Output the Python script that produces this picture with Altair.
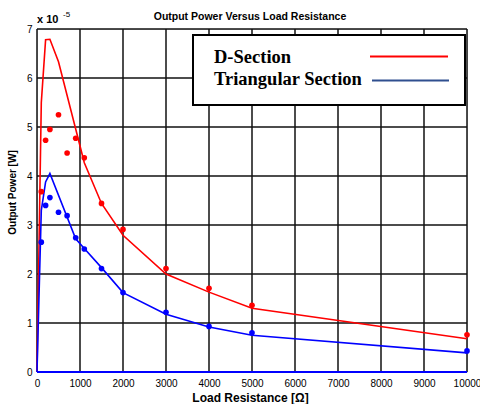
import altair as alt
import pandas as pd

# Measured output power (x 1e-5 W) at each load resistance (ohm)
measured_r = [100, 200, 300, 500, 700, 900, 1100, 1500, 2000, 3000, 4000, 5000, 10000]
d_measured = [3.68, 4.73, 4.95, 5.25, 4.47, 4.77, 4.37, 3.44, 2.91, 2.11, 1.71, 1.36, 0.76]
tri_measured = [2.65, 3.40, 3.56, 3.26, 3.19, 2.74, 2.51, 2.11, 1.62, 1.22, 0.93, 0.80, 0.43]

# Model curves
d_model_r = [0, 100, 200, 300, 500, 1100, 1500, 2000, 3000, 4000, 5000, 10000]
d_model = [0, 5.5, 6.78, 6.79, 6.33, 4.27, 3.44, 2.79, 2.0, 1.63, 1.30, 0.68]
tri_model_r = [0, 100, 200, 300, 900, 1100, 1500, 2000, 3000, 4000, 5000, 10000]
tri_model = [0, 3.3, 3.88, 4.05, 2.72, 2.52, 2.13, 1.62, 1.18, 0.92, 0.75, 0.39]

# Zero trace along the resistance axis
zero_r = [0, 10000]
zero_p = [0, 0]

series_names = ["D-Section", "Triangular Section"]
series_colors = ["#ff0000", "#0000ff"]
x_ticks = list(range(0, 10001, 1000))
y_ticks = list(range(0, 8))

W, H = 430, 343

lines = pd.concat([
    pd.DataFrame({"R": d_model_r, "P": d_model, "series": series_names[0]}),
    pd.DataFrame({"R": tri_model_r, "P": tri_model, "series": series_names[1]}),
])
dots = pd.concat([
    pd.DataFrame({"R": measured_r, "P": d_measured, "series": series_names[0]}),
    pd.DataFrame({"R": measured_r, "P": tri_measured, "series": series_names[1]}),
])
zero = pd.DataFrame({"R": zero_r, "P": zero_p})

x_scale = alt.Scale(domain=[0, 10000], nice=False, zero=True)
y_scale = alt.Scale(domain=[0, 7], nice=False)
color = alt.Color("series:N", scale=alt.Scale(domain=series_names, range=series_colors), legend=None)

x_axis = alt.Axis(values=x_ticks, format="d", title="Load Resistance [Ω]",
                  labelFlush=False, ticks=False, domain=False, grid=False, labelPadding=6,
                  titlePadding=4, titleFontSize=12, titleX=213)
y_axis = alt.Axis(values=y_ticks, format="d", title="Output Power [W]",
                  labelFlush=False, ticks=False, domain=False, grid=False, labelPadding=5,
                  titlePadding=9, titleFontSize=10, titleY=163)

X = alt.X("R:Q", scale=x_scale, axis=x_axis)
Y = alt.Y("P:Q", scale=y_scale, axis=y_axis)

# Grid lines at every tick
grid_x = alt.Chart(pd.DataFrame({"R": x_ticks})).mark_rule(color="#111111", strokeWidth=1.5).encode(
    x=X
)
grid_y = alt.Chart(pd.DataFrame({"P": y_ticks})).mark_rule(color="#111111", strokeWidth=1.5).encode(
    y=Y
)

zero_line = alt.Chart(zero).mark_line(strokeWidth=2, color="#0000ff").encode(x=X, y=Y)

model_lines = alt.Chart(lines).mark_line(strokeWidth=1.6).encode(
    x=X, y=Y, color=color, detail="series:N"
)

points = alt.Chart(dots).mark_circle(size=32, opacity=1).encode(x=X, y=Y, color=color)

# Legend box drawn inside the plot area
one = pd.DataFrame({"k": [0]})
legend_box = alt.Chart(one).mark_rect(fill="white", stroke="black", strokeWidth=2).encode(
    x=alt.value(156), x2=alt.value(428), y=alt.value(6), y2=alt.value(76)
)
legend_text = alt.Chart(pd.DataFrame({"label": series_names, "ty": [34, 56]})).mark_text(
    font="Liberation Serif", fontWeight="bold", fontSize=18.5, align="left", baseline="alphabetic",
    color="black"
).encode(x=alt.value(177), y=alt.Y("ty:Q", scale=None), text="label:N")
legend_swatch = alt.Chart(pd.DataFrame({
    "x1": [333, 335], "x2": [411, 412], "ly": [27.5, 51.5],
    "c": ["#ff0000", "#2f4f8f"]})).mark_rule(strokeWidth=2.2).encode(
    x=alt.X("x1:Q", scale=None), x2="x2:Q", y=alt.Y("ly:Q", scale=None),
    color=alt.Color("c:N", scale=None),
)

# Chart title and exponent marker above the plot
title_text = alt.Chart(one).mark_text(
    text="Output Power Versus Load Resistance", font="Liberation Sans", fontWeight="bold",
    fontSize=10.5, align="center", baseline="alphabetic", color="black"
).encode(x=alt.value(213), y=alt.value(-9))
exp_base = alt.Chart(one).mark_text(
    text="x 10", font="Liberation Sans", fontWeight="bold", fontSize=11, align="left",
    baseline="alphabetic", color="black"
).encode(x=alt.value(0), y=alt.value(-6))
exp_sup = alt.Chart(one).mark_text(
    text="-5", font="Liberation Sans", fontSize=8, align="left",
    baseline="alphabetic", color="black"
).encode(x=alt.value(26), y=alt.value(-12))

chart = alt.layer(
    grid_x, grid_y, model_lines, zero_line, points, legend_box, legend_text, legend_swatch,
    title_text, exp_base, exp_sup
).properties(
    width=W, height=H,
    padding={"left": 37, "top": 29, "right": 13, "bottom": 32},
    autosize=alt.AutoSizeParams(type="none"),
).configure_view(
    stroke="black", strokeWidth=1.5
).configure_axis(
    labelFont="Liberation Sans", labelFontWeight="bold", labelFontSize=12, labelColor="black",
    titleFont="Liberation Sans", titleFontWeight="bold", titleColor="black",
).configure(background="white")

chart.save("out.html", embed_options={"renderer": "svg", "actions": False})
